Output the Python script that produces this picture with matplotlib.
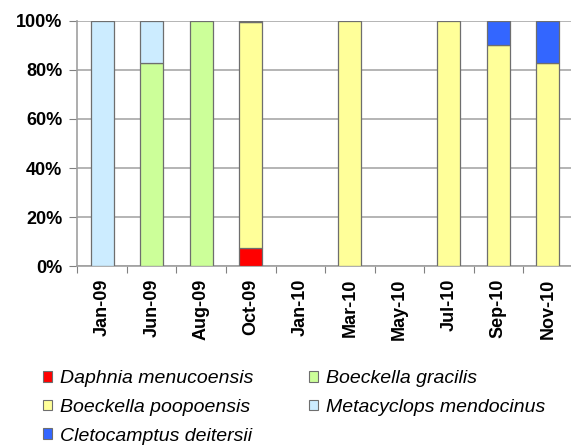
import matplotlib.pyplot as plt
import numpy as np
from matplotlib.patches import Patch

plt.rcParams['font.family'] = ['Liberation Sans', 'DejaVu Sans']

months = ['Jan-09', 'Jun-09', 'Aug-09', 'Oct-09', 'Jan-10',
          'Mar-10', 'May-10', 'Jul-10', 'Sep-10', 'Nov-10']

# percent composition per sampling date
daphnia = [0, 0, 0, 7.3, 0, 0, 0, 0, 0, 0]
gracilis = [0, 83, 100, 0, 0, 0, 0, 0, 0, 0]
poopoensis = [0, 0, 0, 92.2, 0, 100, 0, 100, 90, 83]
metacyclops = [100, 17, 0, 0, 0, 0, 0, 0, 0, 0]
cletocamptus = [0, 0, 0, 0.5, 0, 0, 0, 0, 10, 17]

series = [
    ('Daphnia menucoensis', daphnia, '#FF0000'),
    ('Boeckella gracilis', gracilis, '#CCFF99'),
    ('Boeckella poopoensis', poopoensis, '#FFFF99'),
    ('Metacyclops mendocinus', metacyclops, '#CCECFF'),
    ('Cletocamptus deitersii', cletocamptus, '#3366FF'),
]

fig = plt.figure(figsize=(5.71, 4.45), dpi=100)
ax = fig.add_axes([0.1357, 0.402, 0.867, 0.551])

x = np.arange(len(months))
bottom = np.zeros(len(months))
handles = {}
for name, vals, col in series:
    vals = np.array(vals, dtype=float)
    m = vals > 0  # skip empty segments so no stray edges are drawn
    ax.bar(x[m], vals[m], bottom=bottom[m], width=0.46, color=col,
           edgecolor='#6e6e6e', linewidth=0.9, zorder=3)
    bottom += vals
    handles[name] = Patch(facecolor=col, edgecolor='#6e6e6e', linewidth=0.8)

ax.set_xlim(-0.5, len(months) - 0.5)
ax.set_ylim(0, 100)
ax.set_yticks(np.arange(0, 101, 20))
ax.set_yticklabels([f'{v}%' for v in range(0, 101, 20)],
                   fontsize=13, fontweight='bold')
ax.yaxis.grid(True, color='#a8a8a8', linewidth=1.2, zorder=0)

ax.set_xticks(np.arange(-0.5, len(months), 1))
ax.set_xticklabels([])
ax.set_xticks(x, minor=True)
ax.set_xticklabels(months, minor=True, rotation=90,
                   fontsize=13, fontweight='bold')
ax.tick_params(axis='x', which='major', length=5, color='#808080')
ax.tick_params(axis='x', which='minor', length=0, pad=9)
ax.tick_params(axis='y', length=6, color='#808080', pad=5)

for s in ['top', 'right']:
    ax.spines[s].set_visible(False)
for s in ['left', 'bottom']:
    ax.spines[s].set_color('#a0a0a0')
    ax.spines[s].set_linewidth(1.2)

order = ['Daphnia menucoensis', 'Boeckella poopoensis', 'Cletocamptus deitersii',
         'Boeckella gracilis', 'Metacyclops mendocinus']
fig.legend([handles[n] for n in order], order, ncol=2, loc='upper left',
           bbox_to_anchor=(0.075, 0.168), frameon=False,
           prop={'style': 'italic', 'size': 14},
           handlelength=0.46, handleheight=0.46, handletextpad=0.4,
           columnspacing=2.9, labelspacing=0.6, borderaxespad=0,
           borderpad=0)

fig.savefig('out.png', dpi=100)
